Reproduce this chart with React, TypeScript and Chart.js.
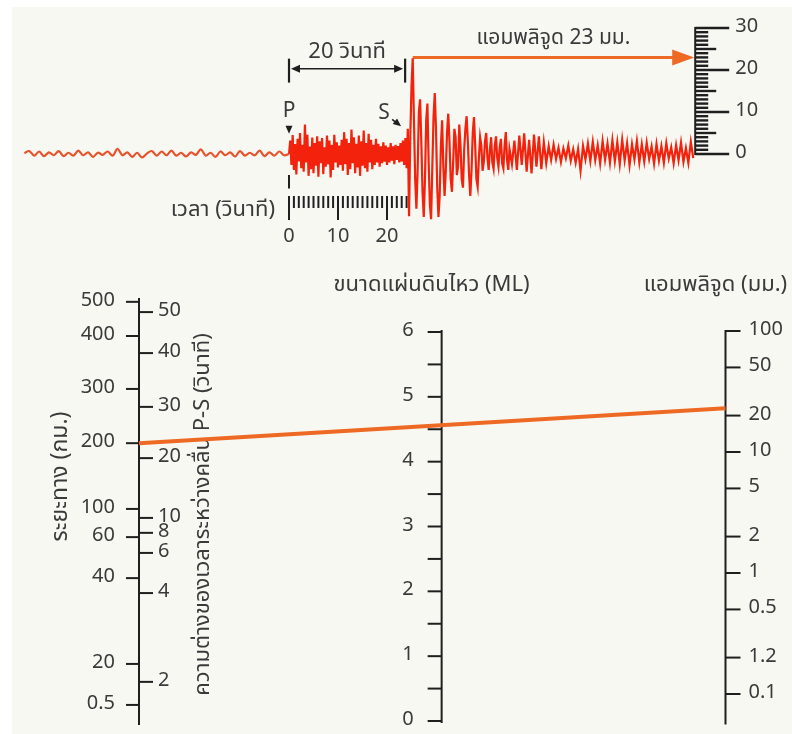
import React, { useEffect, useRef } from "react";
import { Chart, registerables } from "chart.js";

Chart.register(...registerables);

// ---------------- DATA ----------------
// Seismogram: ground motion on the drum (mm), time in seconds from the P arrival
const prePStart = -54;
const prePStep = 1;
const prePAmplitude = [
  0.2, 0.7, -0.4, 0.6, -0.5, 0.4, -0.3, 0.7, -0.5, 0.3,
  -0.4, 0.8, -0.3, 0.4, -0.7, 0.3, -0.2, 0.6, -0.4, 1.2,
  -0.3, 0.4, -0.7, 0.3, -0.8, 0.1, 0.7, -0.4, 0.6, -0.3,
  0.8, -0.4, 0.3, -0.6, 0.4, -0.2, 1.1, -0.4, 0.3, -0.7,
  0.6, -0.3, 0.4, -0.6, 0.7, -0.4, 0.3, -0.3, 0.8, -0.5,
  0.4, -0.4, 0.6, -0.3, 0.0,
];

const pWaveStart = 0;
const pWaveStep = 0.25;
const pWaveAmplitude = [
  0, 3.2, -2.6, 4.5, -3.8, 2.4, -4.9, 3.6, -1.8, 5.0,
  -3.4, 2.2, -4.2, 7.0, -2.0, 4.6, -5.2, 1.8, -3.6, 3.9,
  -4.6, 2.6, -2.8, 4.2, -5.4, 3.0, -2.2, 3.8, -4.8, 1.6,
  -3.0, 4.4, -2.5, 3.2, -5.6, 2.2, -3.8, 4.6, -2.0, 2.8,
  -3.2, 2.0, -2.6, 3.4, -4.0, 5.2, -2.4, 3.6, -5.0, 2.6,
  -3.6, 5.8, -2.2, 4.0, -4.6, 2.4, -3.2, 4.4, -5.2, 3.0,
  -2.8, 5.6, -3.4, 2.6, -4.2, 4.8, -2.0, 3.4, -3.6, 2.2,
  -2.6, 3.6, -2.0, 2.4, -3.0, 1.8, -2.2, 2.8, -1.8, 2.0,
  -2.6, 1.6, -2.0, 2.6, -1.6, 1.8, -2.4, 2.2, -1.4, 1.9,
  -2.0, 2.6, -1.8, 3.2, -2.6, 3.8, -3.4,
];

const sWaveStart = 24.25;
const sWaveStep = 0.25;
const sWaveAmplitude = [
  6, -14.8, 4, 16, 22.8, 8, -6, -13,
  -4, 10, 13, 3, -9, -15, -6, 8,
  12, -2, -12, -15.5, -3, 9, 14.5, 6,
  -8, -15, -10, 2, 8, -3, -10, -4,
  5, 9.6, 3, -6, -9, -2, 6, 4,
  -5, -3, 7, 2, -6, -8, 1, 6,
  9, 3, -5, -10, -4, 5, 8.8, 2,
  -6, -7.8, -1, 4, 2, -4, -2, 3,
  5, -1, -3.8, 1, 4, -2, -3.5, 2,
  4.2, -1, -3, 1.5, 3.6, -2.2, -3.4, 2,
  5.2, -1.5, -3.8, 1.2,
];

const codaStart = 45.5;
const codaStep = 0.5;
const codaAmplitude = [
  -2.4, 3.2, -3.8, 4.4, -2.6, 4.9, -4.2, 3.4, -4.6, 4.6,
  -3.0, 4.2, -3.6, 2.8, -2.2, 1.9, -1.4, 2.2, -1.2, 1.5,
  -1.9, 1.3, -1.0, 2.0, -1.6, 1.1, -2.1, 1.2, -4.0, 1.9,
  -1.3, 2.5, -1.7, 2.9, -1.5, 2.1, -2.3, 3.1, -1.4, 2.5,
  -2.1, 3.3, -1.7, 2.8, -2.4, 3.4, -1.5, 2.6, -2.7, 2.3,
  -1.3, 3.1, -2.0, 2.3, -1.8, 2.7, -1.2, 1.8, -2.3, 2.4,
  -1.6, 1.9, -2.1, 2.6, -1.1, 1.6, -2.2, 2.1, -1.5, 2.7,
  -1.9, 1.4, -2.1, 2.9, -1.0,
];

const pArrival = 0;
const sArrival = 23.7;
const spIntervalLabel = "20 วินาที";
const peakTime = 25.25;
const peakAmplitude = 23;
const peakLabel = "แอมพลิจูด 23 มม.";
const drumScaleTime = 82.9;

const timeAxisTitle = "เวลา (วินาที)";
const timeLabelTicks = [0, 10, 20];
const timeMinorRange = [0, 24];
const drumMajorTicks = [0, 10, 20, 30];
const drumMediumTicks = [5, 15, 25];

// Nomogram graduations (levels on the nomogram height, 0 = foot, 100 = head of the left scale)
const distanceTitle = "ระยะทาง (กม.)";
const distanceLabels = ["500", "400", "300", "200", "100", "60", "40", "20", "0.5"];
const distanceLevels = [99.1, 91.1, 78.7, 66.0, 50.6, 44.0, 34.4, 14.3, 4.7];
const spTitle = "ความต่างของเวลาระหว่างคลื่น P-S (วินาที)";
const spLabels = ["50", "40", "30", "20", "10", "8", "6", "4", "2"];
const spLevels = [96.7, 87.1, 74.5, 62.5, 48.5, 45.0, 40.3, 30.9, 10.1];
const magnitudeTitle = "ขนาดแผ่นดินไหว (ML)";
const magnitudeLabels = [0, 1, 2, 3, 4, 5, 6];
const magnitudeMinorStep = 0.5;
const amplitudeTitle = "แอมพลิจูด (มม.)";
const amplitudeTicks = [100, 50, 20, 10, 5, 2, 1, 0.5, 0.2, 0.1];
const amplitudeLabels = ["100", "50", "20", "10", "5", "2", "1", "0.5", "1.2", "0.1"];
const readingDistance = "200";
const readingAmplitude = 23;

// ---------------- STYLE / LAYOUT ----------------
const W = 780;
const H = 727;
const INK = "#1f1f1f";
const TEXT = "#3a3a3a";
const RED = "#f2220d";
const NOISE = "#e6532c";
const ORANGE = "#ee6a24";
const FONT = "'Noto Sans Thai', 'Noto Sans', 'DejaVu Sans', sans-serif";
const NUM = 20;
const THAI = 22;
const magnitudeColumn = 0.516;

function span(v0: number, p0: number, v1: number, p1: number, size: number) {
  const k = (v1 - v0) / (p1 - p0);
  const a = v0 - p0 * k;
  const b = v0 + (size - p0) * k;
  return { min: Math.min(a, b), max: Math.max(a, b) };
}
function logSpan(v0: number, p0: number, v1: number, p1: number, size: number) {
  const r = span(Math.log10(v0), p0, Math.log10(v1), p1, size);
  return { min: Math.pow(10, r.min), max: Math.pow(10, r.max) };
}

function seg(ctx: CanvasRenderingContext2D, x1: number, y1: number, x2: number, y2: number, w: number) {
  ctx.lineWidth = w;
  ctx.beginPath();
  ctx.moveTo(x1, y1);
  ctx.lineTo(x2, y2);
  ctx.stroke();
}
function txt(
  ctx: CanvasRenderingContext2D, s: string, x: number, y: number,
  align: CanvasTextAlign, size = NUM, color = TEXT, angle = 0
) {
  ctx.save();
  ctx.translate(x, y);
  if (angle) ctx.rotate(angle);
  ctx.font = `${size}px ${FONT}`;
  ctx.fillStyle = color;
  ctx.textAlign = align;
  ctx.textBaseline = "middle";
  ctx.fillText(s, 0, 0);
  ctx.restore();
}
function head(
  ctx: CanvasRenderingContext2D, tx: number, ty: number, ux: number, uy: number,
  len: number, half: number, color: string
) {
  const bx = tx - ux * len;
  const by = ty - uy * len;
  const px = -uy;
  const py = ux;
  ctx.fillStyle = color;
  ctx.beginPath();
  ctx.moveTo(tx, ty);
  ctx.lineTo(bx + px * half, by + py * half);
  ctx.lineTo(bx - px * half, by - py * half);
  ctx.closePath();
  ctx.fill();
}

const nomogramPlugin = {
  id: "nomogramArt",
  beforeDatasetsDraw(chart: any) {
    const ctx: CanvasRenderingContext2D = chart.ctx;
    const s = chart.scales;
    const X = (v: number) => s.xTime.getPixelForValue(v);
    const Y = (v: number) => s.yMm.getPixelForValue(v);
    const C = (v: number) => s.xCol.getPixelForValue(v);
    const L = (v: number) => s.yLevel.getPixelForValue(v);
    const M = (v: number) => s.yMl.getPixelForValue(v);
    const A = (v: number) => s.yAmp.getPixelForValue(v);
    ctx.save();
    ctx.strokeStyle = INK;
    ctx.lineCap = "butt";

    // time scale under the record
    const ty = Y(-10);
    for (let t = timeMinorRange[0]; t <= timeMinorRange[1]; t += 1) {
      const major = timeLabelTicks.includes(t);
      seg(ctx, X(t), ty, X(t), ty + (major ? 24 : 12), 2);
    }
    timeLabelTicks.forEach((t) => txt(ctx, String(t), X(t), ty + 42, "center"));
    txt(ctx, timeAxisTitle, X(pArrival) - 14, ty + 16, "right", THAI);
    seg(ctx, X(pArrival), Y(-5), X(pArrival), Y(-8.2), 2);

    // drum amplitude scale (mm)
    const dx = X(drumScaleTime);
    seg(ctx, dx, Y(0) + 1, dx, Y(30) - 1, 2);
    for (let m = 0; m <= 30; m += 1) {
      const len = drumMajorTicks.includes(m) ? 34 : drumMediumTicks.includes(m) ? 21 : 13;
      seg(ctx, dx, Y(m), dx + len, Y(m), 2.4);
    }
    drumMajorTicks.forEach((m) => txt(ctx, String(m), dx + 40, Y(m), "left"));

    // distance + S-P scale
    const c0 = C(0);
    seg(ctx, c0, L(0), c0, L(100), 2);
    distanceLevels.forEach((lv, i) => {
      seg(ctx, c0 - 13, L(lv), c0, L(lv), 2);
      txt(ctx, distanceLabels[i], c0 - 24, L(lv), "right");
    });
    spLevels.forEach((lv, i) => {
      seg(ctx, c0, L(lv), c0 + 14, L(lv), 2);
      txt(ctx, spLabels[i], c0 + 19, L(lv), "left");
    });

    // magnitude scale
    const c1 = C(magnitudeColumn);
    seg(ctx, c1, M(-0.03), c1, M(6.03), 2);
    for (let k = 0; k * magnitudeMinorStep <= 6 + 1e-9; k++) {
      const m = k * magnitudeMinorStep;
      seg(ctx, c1 - 14, M(m), c1, M(m), 2);
    }
    magnitudeLabels.forEach((m) => txt(ctx, String(m), c1 - 28, M(m), "right"));

    // amplitude scale (log)
    const c2 = C(1);
    seg(ctx, c2, A(0.056), c2, A(102), 2);
    amplitudeTicks.forEach((a, i) => {
      seg(ctx, c2, A(a), c2 + 15, A(a), 2);
      txt(ctx, amplitudeLabels[i], c2 + 23, A(a), "left");
    });

    // titles
    txt(ctx, magnitudeTitle, c1 - 10, M(6) - 45, "center", THAI);
    txt(ctx, amplitudeTitle, c2 - 10, A(100) - 44, "center", THAI);
    txt(ctx, distanceTitle, c0 - 77, L(50) - 35, "center", 23, TEXT, -Math.PI / 2);
    txt(ctx, spTitle, c0 + 66, L(50) + 3, "center", THAI, TEXT, -Math.PI / 2);

    // nomogram reading line
    const lv = distanceLevels[distanceLabels.indexOf(readingDistance)];
    ctx.strokeStyle = ORANGE;
    seg(ctx, c0, L(lv), c2, A(readingAmplitude), 4);
    ctx.restore();
  },
  afterDatasetsDraw(chart: any) {
    const ctx: CanvasRenderingContext2D = chart.ctx;
    const s = chart.scales;
    const X = (v: number) => s.xTime.getPixelForValue(v);
    const Y = (v: number) => s.yMm.getPixelForValue(v);
    ctx.save();
    ctx.strokeStyle = INK;

    // P marker
    const px = X(pArrival);
    const pTip = Y(4.8);
    head(ctx, px, pTip, 0, 1, 8, 3.5, INK);
    txt(ctx, "P", px, pTip - 21, "center", 21);

    // S marker
    const sx = X(sArrival) - 4;
    const sy = Y(6.6);
    seg(ctx, sx - 9, sy - 7, sx - 4, sy - 3, 1.6);
    head(ctx, sx, sy, 0.78, 0.62, 8, 3.5, INK);
    txt(ctx, "S", sx - 17, sy - 12, "center", 21);

    // S-P bracket
    const bx0 = X(pArrival);
    const bx1 = X(sArrival);
    const by = Y(20.3);
    seg(ctx, bx0, Y(22.7), bx0, Y(17), 2.2);
    seg(ctx, bx1, Y(22.7), bx1, Y(17), 2.2);
    seg(ctx, bx0 + 8, by, bx1 - 8, by, 1.6);
    head(ctx, bx0 + 2, by, -1, 0, 9, 4, INK);
    head(ctx, bx1 - 2, by, 1, 0, 9, 4, INK);
    txt(ctx, spIntervalLabel, (bx0 + bx1) / 2, by - 15, "center", THAI);

    // amplitude arrow
    const ay = Y(peakAmplitude);
    const ax = X(drumScaleTime) - 1;
    head(ctx, ax, ay, 1, 0, 22, 8, ORANGE);
    txt(ctx, peakLabel, (X(peakTime) + ax) / 2, ay - 18, "center", 21);
    ctx.restore();
  },
};

export default function App() {
  const ref = useRef<HTMLCanvasElement | null>(null);

  useEffect(() => {
    if (!ref.current) return;
    const prePoints = prePAmplitude.map((v, i) => ({ x: prePStart + i * prePStep, y: v }));
    const mainPoints = [
      ...pWaveAmplitude.map((v, i) => ({ x: pWaveStart + i * pWaveStep, y: v })),
      ...sWaveAmplitude.map((v, i) => ({ x: sWaveStart + i * sWaveStep, y: v })),
      ...codaAmplitude.map((v, i) => ({ x: codaStart + i * codaStep, y: v })),
    ];
    const arrowPoints = [
      { x: peakTime, y: peakAmplitude },
      { x: drumScaleTime - 3, y: peakAmplitude },
    ];

    const xTime = span(0, 277, 10, 326, W);
    const yMm = span(0, 147, 30, 21, H);
    const xCol = span(0, 127, 1, 713.5, W);
    const yLevel = span(0, 718, 100, 291, H);
    const yMl = span(0, 714, 6, 325, H);
    const yAmp = logSpan(100, 324, 0.1, 687, H);
    const hidden = { display: false, bounds: "data" as const };

    const chart = new Chart(ref.current, {
      type: "line",
      data: {
        datasets: [
          {
            label: "noise",
            data: prePoints,
            borderColor: NOISE,
            borderWidth: 2.2,
            pointRadius: 0,
            tension: 0.35,
            xAxisID: "xTime",
            yAxisID: "yMm",
          },
          {
            label: "quake",
            data: mainPoints,
            borderColor: RED,
            borderWidth: 2.2,
            pointRadius: 0,
            tension: 0,
            xAxisID: "xTime",
            yAxisID: "yMm",
          },
          {
            label: "amplitude",
            data: arrowPoints,
            borderColor: ORANGE,
            borderWidth: 3,
            pointRadius: 0,
            xAxisID: "xTime",
            yAxisID: "yMm",
          },
        ],
      },
      options: {
        animation: false,
        responsive: false,
        events: [],
        layout: { padding: 0 },
        plugins: {
          legend: { display: false },
          tooltip: { enabled: false },
          title: { display: false },
        },
        scales: {
          xTime: { type: "linear", axis: "x", ...hidden, min: xTime.min, max: xTime.max },
          yMm: { type: "linear", axis: "y", ...hidden, min: yMm.min, max: yMm.max },
          xCol: { type: "linear", axis: "x", ...hidden, min: xCol.min, max: xCol.max },
          yLevel: { type: "linear", axis: "y", ...hidden, min: yLevel.min, max: yLevel.max },
          yMl: { type: "linear", axis: "y", ...hidden, min: yMl.min, max: yMl.max },
          yAmp: { type: "logarithmic", axis: "y", ...hidden, min: yAmp.min, max: yAmp.max },
        } as any,
      },
      plugins: [nomogramPlugin],
    });
    return () => chart.destroy();
  }, []);

  return (
    <div style={{ position: "absolute", left: 0, top: 0, width: 792, height: 734, background: "#ffffff" }}>
      <canvas
        ref={ref}
        width={W}
        height={H}
        style={{ position: "absolute", left: 12, top: 7, width: W, height: H, background: "#f7f8f2" }}
      />
    </div>
  );
}
